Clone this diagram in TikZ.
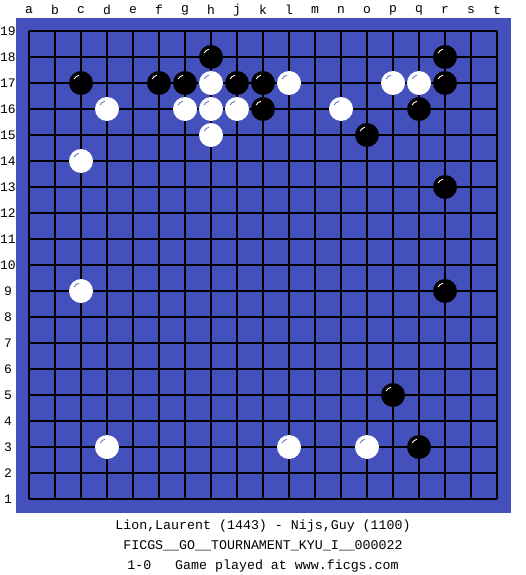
\documentclass[tikz,border=0pt]{standalone}
\usepackage{fontspec}
\setmonofont{Liberation Mono}
\definecolor{boardblue}{RGB}{68,80,188}
\definecolor{shine}{RGB}{110,120,200}
\begin{document}
\begin{tikzpicture}[x=1pt,y=-1pt,
  bstone/.style={fill=black,draw=none},
  wstone/.style={fill=white,draw=none},
  lbl/.style={font=\ttfamily\fontsize{13}{13}\selectfont,inner sep=0pt},
  captxt/.style={font=\ttfamily\fontsize{13.3}{14}\selectfont,inner sep=0pt,anchor=base}]
\useasboundingbox (0,0) rectangle (525,575);
\fill[white] (0,0) rectangle (525,575);
\fill[boardblue] (16,18) rectangle (511,513);
% grid
\foreach \i in {0,...,18} {
  \draw[line width=1.1pt] (29+26*\i,31) -- (29+26*\i,499);
  \draw[line width=1.1pt] (29,31+26*\i) -- (497,31+26*\i);
}
% column labels
\foreach \l [count=\i from 0] in {a,b,c,d,e,f,g,h,j,k,l,m,n,o,p,q,r,s,t}
  \node[lbl] (col\l) at (29+26*\i,10) {\l};
% row labels
\foreach \r in {1,...,19}
  \node[lbl] (row\r) at (8,31+26*19-26*\r) {\r};
% stones: column index (a=1), row
\newcommand{\bst}[2]{%
  \fill[bstone] ({29+26*(#1-1)},{31+26*(19-#2)}) circle (12);
  \draw[white,line width=0.9pt] ({29+26*(#1-1)},{31+26*(19-#2)}) ++(210:8) arc (210:255:8);}
\newcommand{\wst}[2]{%
  \fill[wstone] ({29+26*(#1-1)},{31+26*(19-#2)}) circle (12);
  \draw[shine,line width=0.9pt] ({29+26*(#1-1)},{31+26*(19-#2)}) ++(210:8) arc (210:255:8);}
% black
\bst{8}{18}\bst{17}{18}
\bst{3}{17}\bst{6}{17}\bst{7}{17}\bst{9}{17}\bst{10}{17}\bst{17}{17}
\bst{10}{16}\bst{16}{16}
\bst{14}{15}
\bst{17}{13}\bst{17}{9}\bst{15}{5}\bst{16}{3}
% white
\wst{8}{17}\wst{11}{17}\wst{15}{17}\wst{16}{17}
\wst{4}{16}\wst{7}{16}\wst{8}{16}\wst{9}{16}\wst{13}{16}
\wst{8}{15}\wst{3}{14}\wst{3}{9}
\wst{4}{3}\wst{11}{3}\wst{14}{3}
% captions
\node[captxt] (t1) at (263,529) {Lion,Laurent (1443) - Nijs,Guy (1100)};
\node[captxt] (t2) at (263,549) {FICGS\_\_GO\_\_TOURNAMENT\_KYU\_I\_\_000022};
\node[captxt] (t3) at (263,569) {1-0~~~Game played at www.ficgs.com};
\end{tikzpicture}
\end{document}
